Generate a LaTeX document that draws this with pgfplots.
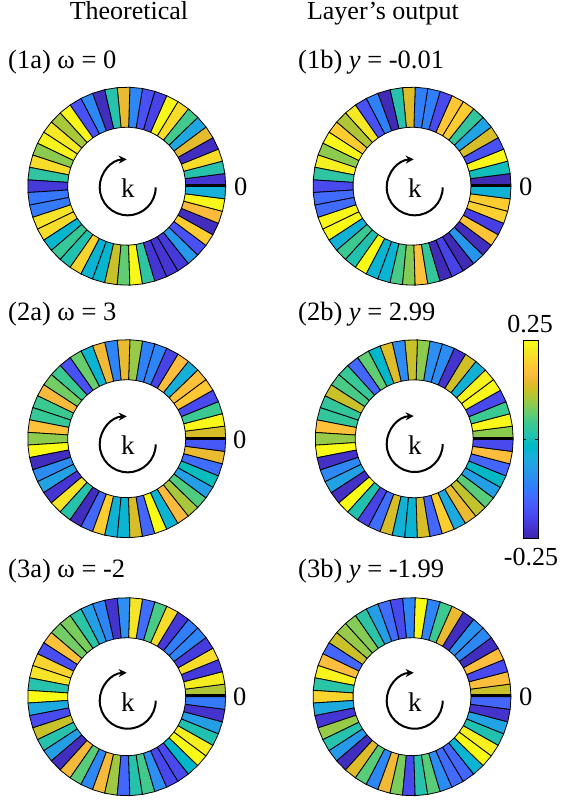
\documentclass[border=0pt]{standalone}
\usepackage{pgfplots}
\pgfplotsset{compat=1.18}
\usepackage{fontspec}
\setmainfont{Liberation Serif}
\usetikzlibrary{arrows.meta}
\pgfplotsset{colormap={parulaold}{
rgb=(0.2422,0.1504,0.6603) rgb=(0.2504,0.1650,0.7076) rgb=(0.2578,0.1818,0.7511) rgb=(0.2647,0.1978,0.7952)
rgb=(0.2706,0.2147,0.8364) rgb=(0.2751,0.2342,0.8710) rgb=(0.2783,0.2559,0.8991) rgb=(0.2803,0.2782,0.9221)
rgb=(0.2813,0.3006,0.9414) rgb=(0.2810,0.3228,0.9579) rgb=(0.2795,0.3447,0.9717) rgb=(0.2760,0.3667,0.9829)
rgb=(0.2699,0.3892,0.9906) rgb=(0.2602,0.4123,0.9952) rgb=(0.2440,0.4358,0.9988) rgb=(0.2206,0.4603,0.9973)
rgb=(0.1963,0.4847,0.9892) rgb=(0.1834,0.5074,0.9798) rgb=(0.1786,0.5289,0.9682) rgb=(0.1764,0.5499,0.9520)
rgb=(0.1687,0.5703,0.9359) rgb=(0.1540,0.5902,0.9218) rgb=(0.1460,0.6091,0.9079) rgb=(0.1380,0.6276,0.8973)
rgb=(0.1248,0.6459,0.8883) rgb=(0.1113,0.6635,0.8763) rgb=(0.0952,0.6798,0.8598) rgb=(0.0689,0.6948,0.8394)
rgb=(0.0297,0.7082,0.8163) rgb=(0.0036,0.7203,0.7917) rgb=(0.0067,0.7312,0.7660) rgb=(0.0433,0.7411,0.7394)
rgb=(0.0964,0.7500,0.7120) rgb=(0.1408,0.7584,0.6842) rgb=(0.1717,0.7670,0.6554) rgb=(0.1938,0.7758,0.6251)
rgb=(0.2161,0.7843,0.5923) rgb=(0.2470,0.7918,0.5567) rgb=(0.2906,0.7973,0.5188) rgb=(0.3406,0.8008,0.4789)
rgb=(0.3909,0.8029,0.4354) rgb=(0.4456,0.8024,0.3909) rgb=(0.5044,0.7993,0.3480) rgb=(0.5616,0.7942,0.3045)
rgb=(0.6174,0.7876,0.2612) rgb=(0.6720,0.7793,0.2227) rgb=(0.7242,0.7698,0.1910) rgb=(0.7738,0.7598,0.1646)
rgb=(0.8203,0.7498,0.1535) rgb=(0.8634,0.7406,0.1596) rgb=(0.9035,0.7330,0.1774) rgb=(0.9393,0.7288,0.2100)
rgb=(0.9728,0.7309,0.2394) rgb=(0.9956,0.7434,0.2371) rgb=(0.9970,0.7659,0.2199) rgb=(0.9952,0.7861,0.1967)
rgb=(0.9892,0.8136,0.1885) rgb=(0.9786,0.8386,0.1766) rgb=(0.9676,0.8639,0.1643) rgb=(0.9610,0.8890,0.1537)
rgb=(0.9597,0.9135,0.1423) rgb=(0.9628,0.9373,0.1265) rgb=(0.9691,0.9606,0.1064) rgb=(0.9769,0.9839,0.0805)
}}
\newcommand{\ringplot}[3]{%
  \gdef\coords{}%
  \foreach \v [count=\i from 0] in {#3} {%
    \pgfmathsetmacro{\aa}{\i*7.3469388}%
    \pgfmathsetmacro{\ab}{(\i+1)*7.3469388}%
    \pgfmathsetmacro{\xa}{#1+59*cos(\aa)}\pgfmathsetmacro{\ya}{#2-59*sin(\aa)}%
    \pgfmathsetmacro{\xb}{#1+99*cos(\aa)}\pgfmathsetmacro{\yb}{#2-99*sin(\aa)}%
    \pgfmathsetmacro{\xc}{#1+99*cos(\ab)}\pgfmathsetmacro{\yc}{#2-99*sin(\ab)}%
    \pgfmathsetmacro{\xd}{#1+59*cos(\ab)}\pgfmathsetmacro{\yd}{#2-59*sin(\ab)}%
    \xdef\coords{\coords (\xa,\ya)[\v] (\xb,\yb)[\v] (\xc,\yc)[\v] (\xd,\yd)[\v]}%
  }%
  \edef\temp{\noexpand\addplot[patch,patch type=rectangle,shader=faceted,faceted color=black,line width=0.8pt,point meta=explicit] coordinates {\coords};}%
  \temp
}
\newcommand{\ringthick}[2]{%
  \addplot[black,line width=3.2pt,no marks] coordinates {(#1,#2) (#1+40,#2)};%
}
\newcommand{\karrow}[2]{%
  \draw[line width=2pt,-{Stealth[length=8pt,width=8pt]}] (axis cs:#1+28,#2) arc[start angle=0,end angle=-268,radius=28pt];%
  \node[font=\fontsize{27}{30}\selectfont] at (axis cs:#1+0.2,#2+1) {k};%
}
\newcommand{\txt}[3]{\node[anchor=base west,inner sep=0pt,font=\fontsize{26.5}{30}\selectfont] at (axis cs:#1,#2) {#3};}
\begin{document}
\begin{tikzpicture}
\begin{axis}[
  scale only axis,width=561pt,height=802pt,
  xmin=0,xmax=561,ymin=0,ymax=802,y dir=reverse,
  hide axis,clip=false,
  colormap name=parulaold,
  point meta min=-0.25,point meta max=0.25,
  colorbar,
  colorbar style={
    at={(parent axis.north west)},anchor=north west,
    xshift=514.5pt,yshift=-340.7pt,
    scale only axis,width=15.4pt,height=197.6pt,
    ytick={0},yticklabels={},
    tick align=inside,major tick length=3pt,
    tick style={black,line width=0.5pt},
    axis line style={line width=0.5pt},
  },
]
\path[use as bounding box] (axis cs:0,0) rectangle (axis cs:561,802);
\ringplot{126.7}{186.2}{-.22,.015,.21,-.235,.145,-.055,.045,.21,.245,-.2,-.18,-.105,.15,.015,-.235,-.105,-.18,.245,.105,.225,.24,.09,.21,.025,-.215,-.13,-.125,.22,.21,-.025,.035,.01,.2,-.03,-.025,.125,.065,.245,.025,-.22,-.22,-.215,-.08,-.18,.19,-.235,.165,.245,-.04}
\ringplot{412}{186.2}{-.24,0,.245,-.18,.135,-.06,.03,.19,.185,-.19,-.12,-.12,.14,.015,-.24,-.115,-.18,.225,.11,.19,.245,.09,.235,.025,-.19,-.145,-.145,.245,.25,-.035,.04,.01,.25,-.03,-.03,.05,.085,.175,.03,-.24,-.2,-.24,-.085,-.235,.18,-.205,.195,.19,-.035}
\ringplot{126.7}{438.7}{.135,.245,.04,-.19,.185,.175,-.04,.17,-.2,-.11,-.115,.095,.15,-.11,.155,-.03,.07,-.18,.04,.075,.16,.04,.035,.175,.09,.25,-.235,-.1,-.065,-.22,.22,.015,-.235,-.15,.19,-.035,-.03,.135,-.15,.25,-.03,.165,.105,.055,-.07,-.005,-.14,.15,-.17}
\ringplot{414.2}{438.8}{.09,.245,.04,-.19,.245,.24,-.035,.13,-.225,-.1,-.095,.09,.125,-.1,.14,-.02,.065,-.15,.035,.05,.125,.03,.03,.175,.095,.25,-.23,-.105,-.065,-.23,.25,.01,-.2,-.14,.135,-.035,-.03,.135,-.15,.19,-.05,.15,.12,.06,-.07,-.015,-.15,.17,-.19}
\ringplot{126.7}{696.7}{.11,.23,-.215,.21,-.21,-.11,-.12,-.215,.21,.05,-.14,.22,-.095,-.225,-.11,-.07,.02,.08,.075,.175,-.185,.2,.22,.015,.25,-.05,-.19,.125,.015,-.07,-.235,.16,.06,-.105,.16,.1,-.15,.015,.045,-.095,-.195,-.19,-.02,.25,.235,.01,-.07,-.225,-.125}
\ringplot{412}{696.7}{.125,.17,-.19,.17,-.235,-.105,-.09,-.235,.15,.04,-.11,.25,-.11,-.19,-.14,-.07,.02,.085,.095,.125,-.15,.17,.24,.02,.2,-.05,-.22,.095,.015,-.08,-.235,.14,.06,-.105,.155,.08,-.19,.015,.06,-.1,-.145,-.15,-.03,.25,.235,.01,-.06,-.225,-.15}
\ringthick{185.7}{185.4}
\ringthick{471}{185.4}
\ringthick{185.7}{438.7}
\ringthick{473.2}{438.8}
\ringthick{185.7}{695.7}
\ringthick{471}{695.7}
\karrow{127.7}{187.3}
\karrow{414.7}{187.3}
\karrow{127.7}{444.3}
\karrow{414.7}{444}
\karrow{127.7}{700.7}
\karrow{414.7}{700.7}
\node[anchor=base,inner sep=0pt,font=\fontsize{26}{30}\selectfont] at (axis cs:129,20) {Theoretical};
\node[anchor=base,inner sep=0pt,font=\fontsize{26}{30}\selectfont] at (axis cs:383,20) {Layer's output};
\txt{8}{69}{(1a) ω = 0}
\txt{298}{69}{(1b) \textit{y} = -0.01}
\txt{8}{320}{(2a) ω = 3}
\txt{298}{320}{(2b) \textit{y} = 2.99}
\txt{8}{577}{(3a) ω = -2}
\txt{298}{577}{(3b) \textit{y} = -1.99}
\txt{234}{196}{0}
\txt{519}{196}{0}
\txt{233}{448}{0}
\txt{233}{705}{0}
\txt{519}{705}{0}
\node[anchor=base,inner sep=0pt,font=\fontsize{26}{30}\selectfont] at (axis cs:530,332) {0.25};
\node[anchor=base,inner sep=0pt,font=\fontsize{26}{30}\selectfont] at (axis cs:531,565) {-0.25};
\end{axis}
\end{tikzpicture}
\end{document}
